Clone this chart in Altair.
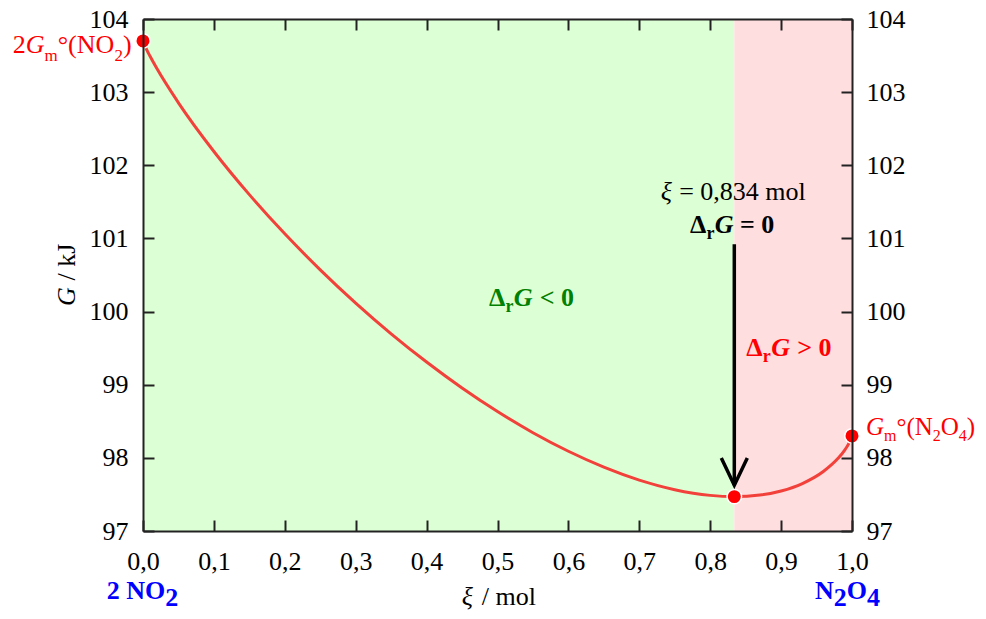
import altair as alt
import pandas as pd

FONT = "Liberation Serif"

# Gibbs energy curve G(xi)
xi = [0.0, 0.005, 0.01, 0.02, 0.05, 0.1, 0.15, 0.2, 0.25, 0.3, 0.35, 0.4, 0.45, 0.5,
      0.55, 0.6, 0.65, 0.7, 0.75, 0.8, 0.834, 0.87, 0.9, 0.93, 0.96, 0.98, 0.99, 0.995, 1.0]
G = [103.70, 103.586, 103.490, 103.315, 102.854, 102.189, 101.599, 101.063, 100.571, 100.116,
     99.696, 99.310, 98.955, 98.633, 98.344, 98.090, 97.873, 97.696, 97.565, 97.487, 97.470,
     97.491, 97.547, 97.649, 97.817, 97.990, 98.110, 98.188, 98.30]

# marked points
pt_xi = [0.0, 0.834, 1.0]
pt_G = [103.70, 97.470, 98.30]

# regions
reg_start = [0.0, 0.834]
reg_end = [0.834, 1.0]
reg_color = ["#DDFFD5", "#FFDEDF"]

# arrow
arrow_xi = [0.834]
arrow_top = [100.92]
arrow_tip = [97.625]

xticks = [0.0, 0.1, 0.2, 0.3, 0.4, 0.5, 0.6, 0.7, 0.8, 0.9, 1.0]
yticks = [97, 98, 99, 100, 101, 102, 103, 104]

XS = alt.Scale(domain=[0, 1], nice=False, zero=False)
YS = alt.Scale(domain=[97, 104], nice=False, zero=False)

common = dict(labelFont=FONT, labelFontSize=26, labelColor="black", domainColor="#222",
              domainWidth=2, tickColor="#222", tickWidth=2, grid=False, title=None,
              zindex=1, labelFlush=False, labelOverlap=False)
xlab = "replace(format(datum.value, '.1f'), '.', ',')"
x_main = alt.Axis(orient="bottom", values=xticks, ticks=False, labelPadding=17, labelExpr=xlab, **common)
x_top = alt.Axis(orient="top", values=xticks, ticks=False, labels=False, **common)
x_bt = alt.Axis(orient="bottom", values=xticks, domain=False, labels=False, tickSize=11, offset=-11, **common)
x_tt = alt.Axis(orient="top", values=xticks, domain=False, labels=False, tickSize=11, offset=-11, **common)
y_left = alt.Axis(orient="left", values=yticks, ticks=False, labelPadding=15, format="d", **common)
y_right = alt.Axis(orient="right", values=yticks, ticks=False, labelPadding=14, format="d", **common)
y_lt = alt.Axis(orient="left", values=yticks, domain=False, labels=False, tickSize=11, offset=-11, **common)
y_rt = alt.Axis(orient="right", values=yticks, domain=False, labels=False, tickSize=11, offset=-11, **common)

reg_df = pd.DataFrame({"x0": reg_start, "x1": reg_end, "c": reg_color, "y0": [97, 97], "y1": [104, 104]})
bg = alt.Chart(reg_df).mark_rect().encode(
    x=alt.X("x0:Q", scale=XS, axis=x_main), x2="x1:Q",
    y=alt.Y("y0:Q", scale=YS, axis=y_left), y2="y1:Q",
    color=alt.Color("c:N", scale=None))

curve_df = pd.DataFrame({"xi": xi, "G": G})
curve = alt.Chart(curve_df).mark_line(color="#F2413A", strokeWidth=3, interpolate="monotone").encode(
    x=alt.X("xi:Q", scale=XS, axis=x_top), y=alt.Y("G:Q", scale=YS, axis=y_right))

pt_df = pd.DataFrame({"xi": pt_xi, "G": pt_G})
dots = alt.Chart(pt_df).mark_circle(color="#FF0000", size=210, opacity=1, stroke="white", strokeWidth=1.5).encode(
    x=alt.X("xi:Q", scale=XS, axis=x_bt), y=alt.Y("G:Q", scale=YS, axis=y_lt))

ar_df = pd.DataFrame({"xi": arrow_xi, "top": arrow_top, "tip": arrow_tip})
arrow_line = alt.Chart(ar_df).mark_rule(color="black", strokeWidth=3.5).encode(
    x=alt.X("xi:Q", scale=XS, axis=x_tt), y=alt.Y("top:Q", scale=YS, axis=y_rt), y2="tip:Q")
arrow_head = alt.Chart(ar_df).mark_point(shape="M -1 -2.1 L 0 0 L 1 -2.1", filled=False, color="black",
                                         strokeWidth=3.5, size=676, opacity=1).encode(
    x=alt.X("xi:Q", scale=XS, axis=None), y=alt.Y("tip:Q", scale=YS, axis=None))


def rich(pieces, ax, ay, dx0, dy0, color, angle=None, xval=None, baseline="alphabetic"):
    out = []
    dx = dx0
    df = pd.DataFrame({"x": [ax], "y": [ay]})
    for text, size, style, weight, w, ddy in pieces:
        kw = dict(text=text, align="left", baseline=baseline, font=FONT, fontSize=size,
                  fontStyle=style, fontWeight=weight, color=color, dx=dx, dy=dy0 + ddy)
        if angle is not None:
            kw["angle"] = angle
        enc_x = alt.value(xval) if xval is not None else alt.X("x:Q", scale=XS, axis=None)
        out.append(alt.Chart(df).mark_text(**kw).encode(x=enc_x, y=alt.Y("y:Q", scale=YS, axis=None)))
        dx += w
    return out


texts = []
# 2 G_m°(NO2)
texts += rich([("2", 26, "normal", "normal", 13, 0), ("G", 26, "italic", "normal", 18.8, 0),
               ("m", 17, "normal", "normal", 13.2, 8), ("°(NO", 26, "normal", "normal", 56.7, 0),
               ("2", 17, "normal", "normal", 8.5, 8), (")", 26, "normal", "normal", 8.7, 0)],
              0.0, 103.70, -130.3, 12.3, "#FF0000")
# G_m°(N2O4)
texts += rich([("G", 25, "italic", "normal", 18, 0), ("m", 16, "normal", "normal", 12.4, 6),
               ("°(N", 25, "normal", "normal", 36.3, 0), ("2", 16, "normal", "normal", 8, 6),
               ("O", 25, "normal", "normal", 18, 0), ("4", 16, "normal", "normal", 8, 6),
               (")", 25, "normal", "normal", 8.3, 0)],
              1.0, 98.30, 14, -1, "#FF0000")
# xi = 0,834 mol
texts += rich([("ξ", 26, "italic", "normal", 18.5, 0), ("= 0,834 mol", 26, "normal", "normal", 130, 0)],
              0.834, 100.92, -73.6, -44.3, "black")
# Delta_r G = 0
texts += rich([("Δ", 26, "normal", "bold", 16.5, 0), ("r", 18, "normal", "bold", 8.3, 6),
               ("G", 26, "italic", "bold", 25.2, 0), ("= 0", 26, "normal", "bold", 40, 0)],
              0.834, 100.92, -44.3, -11.3, "black")
# Delta_r G < 0
texts += rich([("Δ", 26, "normal", "bold", 16.5, 0), ("r", 18, "normal", "bold", 8.3, 6),
               ("G", 26, "italic", "bold", 26, 0), ("< 0", 26, "normal", "bold", 40, 0)],
              0.488, 100.08, 0, 0, "#008000")
# Delta_r G > 0
texts += rich([("Δ", 26, "normal", "bold", 16.5, 0), ("r", 18, "normal", "bold", 8.3, 6),
               ("G", 26, "italic", "bold", 26, 0), ("> 0", 26, "normal", "bold", 40, 0)],
              0.851, 99.39, 0, 0, "#FF0000")
# 2 NO2
texts += rich([("2 NO", 26, "normal", "bold", 58.5, 0), ("2", 26, "normal", "bold", 13, 7)],
              0.0, 97.0, -36.3, 68, "#0000FF")
# N2O4
texts += rich([("N", 26, "normal", "bold", 18.8, 0), ("2", 26, "normal", "bold", 13, 7),
               ("O", 26, "normal", "bold", 20.2, 0), ("4", 26, "normal", "bold", 13, 7)],
              1.0, 97.0, -37, 68, "#0000FF")
# x title
texts += rich([("ξ", 26, "italic", "normal", 20, 0), ("/ mol", 26, "normal", "normal", 60, 0)],
              0.5, 97.0, -35.8, 74, "black")
# y title
texts += rich([("G", 26, "italic", "normal", 25.5, 0), ("/ kJ", 26, "normal", "normal", 44, 0)],
              0.0, 100.5, -31, 0, "black", angle=270, xval=-76, baseline="middle")

chart = alt.layer(bg, curve, dots, arrow_line, arrow_head, *texts).resolve_axis(
    x="independent", y="independent"
).properties(
    width=709, height=512, autosize="none",
    padding={"left": 135, "top": 11, "right": 126, "bottom": 80},
    background="white",
).configure_view(stroke=None)

chart.save("out.html", embed_options={"renderer": "svg", "actions": False})
